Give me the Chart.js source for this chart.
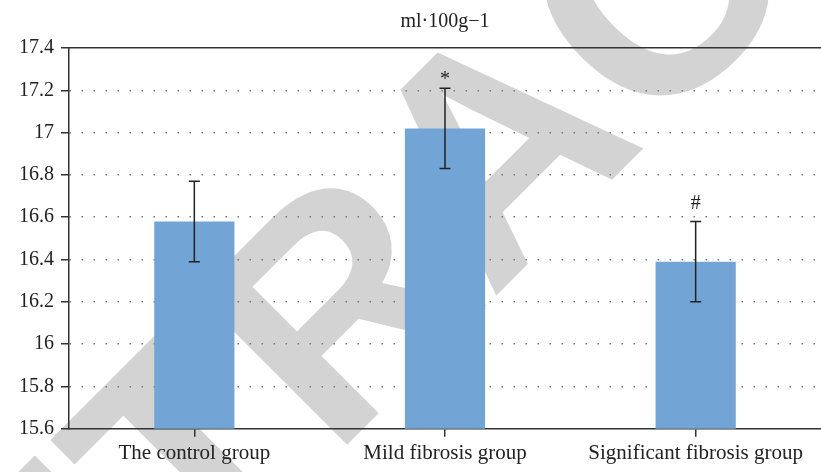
<!DOCTYPE html>
<html>
<head>
<meta charset="utf-8">
<script src="https://cdn.jsdelivr.net/npm/chart.js@4.4.0/dist/chart.umd.min.js"></script>
<style>
  body { margin: 0; background: #fff; }
  canvas { display: block; }
</style>
</head>
<body>
<canvas id="bloodChart" width="821" height="472"></canvas>
<script>
// values
const groups = ['The control group', 'Mild fibrosis group', 'Significant fibrosis group'];
const meanValues = [16.58, 17.02, 16.39];
const errValues = [0.19, 0.19, 0.19];
const marks = ['', '*', '#'];
const unitTitle = 'ml\u00b7100g\u22121';
const yMin = 15.6, yMax = 17.4, yStep = 0.2;

const serif = '"Liberation Serif", "DejaVu Serif", serif';

// gray RETRACTED stamp behind the chart (anchored at the top of the "A")
const stampPlugin = {
  id: 'stamp',
  beforeDraw(chart) {
    const ctx = chart.ctx;
    const size = 310;
    ctx.save();
    ctx.translate(413, 65);
    ctx.rotate(-45 * Math.PI / 180);
    ctx.font = 'bold ' + size + 'px "Liberation Sans", Arial, sans-serif';
    ctx.fillStyle = '#d3d3d3';
    ctx.textAlign = 'center';
    ctx.textBaseline = 'alphabetic';
    ctx.fillText('RETRACTED', 0, size * 0.716);
    ctx.restore();
  }
};

// error bars + significance marks
const errorBarPlugin = {
  id: 'errorBars',
  afterDatasetsDraw(chart) {
    const ctx = chart.ctx;
    const xs = chart.scales.x, ys = chart.scales.y;
    const markOffset = { '*': 3, '#': 12 };
    ctx.save();
    ctx.strokeStyle = '#222';
    ctx.lineWidth = 1.5;
    meanValues.forEach((v, i) => {
      const x = xs.getPixelForValue(i);
      const yt = ys.getPixelForValue(v + errValues[i]);
      const yb = ys.getPixelForValue(v - errValues[i]);
      ctx.beginPath();
      ctx.moveTo(x, yt); ctx.lineTo(x, yb);
      ctx.moveTo(x - 5.5, yt); ctx.lineTo(x + 5.5, yt);
      ctx.moveTo(x - 5.5, yb); ctx.lineTo(x + 5.5, yb);
      ctx.stroke();
      if (marks[i]) {
        ctx.fillStyle = '#222';
        ctx.font = '20px ' + serif;
        ctx.textAlign = 'center';
        ctx.textBaseline = 'alphabetic';
        ctx.fillText(marks[i], x, yt - (markOffset[marks[i]] || 6));
      }
    });
    ctx.restore();
  }
};

new Chart(document.getElementById('bloodChart'), {
  type: 'bar',
  data: {
    labels: groups,
    datasets: [{
      data: meanValues,
      backgroundColor: '#72a5d6',
      borderWidth: 0,
      barPercentage: 0.32,
      categoryPercentage: 1
    }]
  },
  options: {
    responsive: false,
    animation: false,
    layout: { padding: { left: 12, right: 0, top: 4, bottom: 2 } },
    plugins: {
      legend: { display: false },
      tooltip: { enabled: false },
      title: {
        display: true,
        text: unitTitle,
        fullSize: false,
        color: '#222',
        font: { family: serif, size: 20, weight: 'normal' },
        padding: { top: 6, bottom: 14 }
      }
    },
    scales: {
      x: {
        grid: {
          drawOnChartArea: false,
          offset: false,
          tickLength: 8,
          color: '#333',
          lineWidth: 1.5
        },
        border: { color: '#333', width: 1.5 },
        ticks: {
          color: '#222',
          font: { family: serif, size: 21 },
          padding: 4,
          maxRotation: 0
        }
      },
      xTop: {
        type: 'category',
        position: 'top',
        labels: groups,
        grid: { display: false, drawTicks: false },
        border: { color: '#333', width: 1.5 },
        ticks: { display: false }
      },
      y: {
        min: yMin,
        max: yMax,
        grid: {
          color: c => (c.tick && (Math.abs(c.tick.value - yMin) < 1e-6 || Math.abs(c.tick.value - yMax) < 1e-6)) ? 'rgba(0,0,0,0)' : '#777',
          lineWidth: 1.5,
          tickLength: 8,
          tickColor: '#333',
          tickWidth: 1.5,
          tickBorderDash: []
        },
        border: { color: '#333', width: 1.5, dash: [1.5, 10.5] },
        ticks: {
          stepSize: yStep,
          color: '#222',
          padding: 7,
          font: { family: serif, size: 20 },
          callback: v => String(Number(v.toFixed(1)))
        }
      }
    }
  },
  plugins: [stampPlugin, errorBarPlugin]
});
</script>
</body>
</html>
